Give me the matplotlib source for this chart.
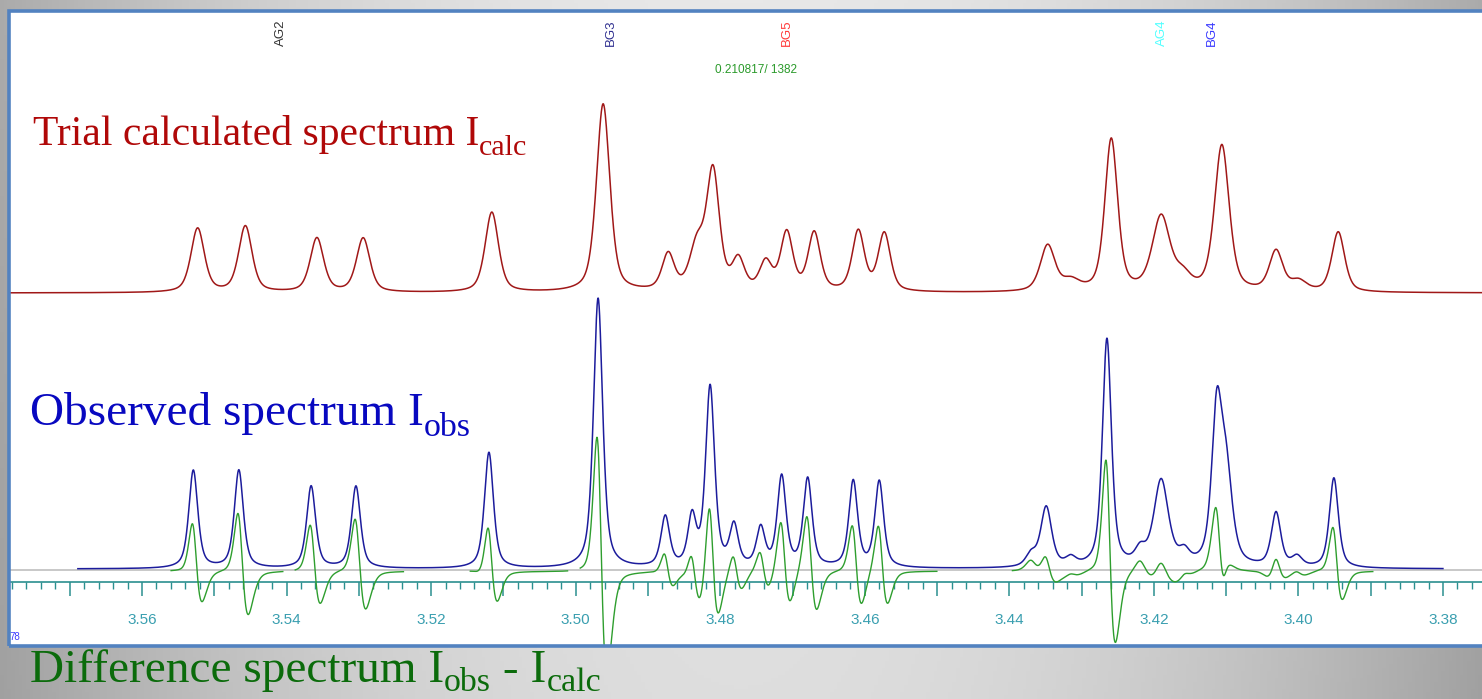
import numpy as np
import matplotlib
matplotlib.use("Agg")
import matplotlib.pyplot as plt
from matplotlib.patches import Rectangle
from matplotlib.ticker import FixedLocator, MultipleLocator

# ---- peak tables (chemical shift in ppm, intensity, half-width in ppm) ----
obs_ppm = [3.5529, 3.5466, 3.5366, 3.5304, 3.5120, 3.4969, 3.4876, 3.4839,
           3.4814, 3.4781, 3.4744, 3.4715, 3.4679, 3.4616, 3.4580, 3.4370,
           3.4349, 3.4315, 3.4265, 3.4219, 3.4190, 3.4158, 3.4113, 3.4100,
           3.4031, 3.4002, 3.3951]
obs_int = [98, 98, 82, 82, 116, 270, 50, 48,
           180, 40, 38, 90, 88, 86, 86, 12,
           60, 8, 228, 14, 86, 12, 148, 88,
           54, 10, 90]
obs_hw = [0.00074, 0.00074, 0.00074, 0.00074, 0.00074, 0.00076, 0.00072, 0.00068,
          0.00074, 0.00070, 0.00070, 0.00072, 0.00072, 0.00072, 0.00072, 0.00085,
          0.00090, 0.00085, 0.00074, 0.00085, 0.00120, 0.00085, 0.00085, 0.00100,
          0.00078, 0.00085, 0.00074]

calc_ppm = [3.5523, 3.5457, 3.5358, 3.5294, 3.5116, 3.4962, 3.4872, 3.4832,
            3.4810, 3.4775, 3.4737, 3.4708, 3.4670, 3.4609, 3.4573, 3.4315,
            3.4347, 3.4259, 3.4190, 3.4160, 3.4106, 3.4031, 3.4000, 3.3945]
calc_int = [64, 66, 54, 54, 80, 188, 36, 44,
            118, 30, 28, 58, 58, 60, 58, 10,
            46, 152, 74, 14, 146, 40, 10, 60]
calc_hw = [0.00110, 0.00110, 0.00110, 0.00110, 0.00110, 0.00110, 0.00100, 0.00120,
           0.00105, 0.00100, 0.00100, 0.00100, 0.00100, 0.00100, 0.00100, 0.00140,
           0.00120, 0.00105, 0.00145, 0.00130, 0.00120, 0.00110, 0.00130, 0.00105]

# spectral windows where the difference is evaluated
diff_windows = [(3.5560, 3.5405), (3.5388, 3.5238), (3.5146, 3.5011),
                (3.4994, 3.4500), (3.4396, 3.3897)]
diff_scale = 1.05

# observed data range
obs_range = (3.5689, 3.3800)

# axis labels and assignment markers
tick_values = [3.56, 3.54, 3.52, 3.50, 3.48, 3.46, 3.44, 3.42, 3.40, 3.38]
tick_labels = ["3.56", "3.54", "3.52", "3.50", "3.48", "3.46", "3.44", "3.42", "3.40", "3.38"]
assign_names = ["AG2", "BG3", "BG5", "AG4", "BG4"]
assign_ppm = [3.5408, 3.4951, 3.4708, 3.4189, 3.4120]
assign_colors = ["#333333", "#303090", "#ff3a3a", "#50ffff", "#3838ff"]


def voigt_sum(x, centers, heights, widths, eta):
    """Sum of pseudo-Voigt lines (peak-height normalised)."""
    y = np.zeros_like(x)
    for c, h, w in zip(centers, heights, widths):
        u = (x - c) / w
        lor = 1.0 / (1.0 + u ** 2)
        gau = np.exp(-np.log(2) * u ** 2)
        y += h * (eta * lor + (1 - eta) * gau)
    return y


# ---- figure and gradient background ----
W, H = 1482, 699
fig = plt.figure(figsize=(W / 100, H / 100), dpi=100)
bg = fig.add_axes([0, 0, 1, 1])
gx = np.linspace(-1, 1, 400)
gy = np.linspace(0, 1, 200)[:, None]
shade = 0.91 - 0.24 * gx[None, :] ** 2 - 0.04 * gy
bg.imshow(np.dstack([shade] * 3), extent=[0, 1, 0, 1], aspect="auto",
          origin="upper", vmin=0, vmax=1)
bg.set_axis_off()

# main plot frame (extends past the right edge)
px_per_ppm = 7228.0
x_left = 3.5784
left_px, top_px, bottom_px, right_px = 9, 11, 646, 1500
ax = fig.add_axes([left_px / W, (H - bottom_px) / H,
                   (right_px - left_px) / W, (bottom_px - top_px) / H])
ax.set_xlim(x_left, x_left - (right_px - left_px) / px_per_ppm)
ax.set_ylim(0, bottom_px - top_px)
ax.set_facecolor("white")

x = np.linspace(x_left, 3.372, 6000)
obs = voigt_sum(x, obs_ppm, obs_int, obs_hw, 0.6)
calc = voigt_sum(x, calc_ppm, calc_int, calc_hw, 0.5)
diff = obs - diff_scale * calc

red_base, blue_base, green_base, zero_line, axis_y = 353, 77, 75, 76, 64

# zero reference line
ax.axhline(zero_line, color="#c4c4c4", lw=1.3, zorder=1)

# calculated spectrum
ax.plot(x, red_base + calc, color="#a01818", lw=1.1, zorder=3)

# observed spectrum
obs_mask = (x <= obs_range[0]) & (x >= obs_range[1])
ax.plot(x[obs_mask], blue_base + obs[obs_mask], color="#1c1c9c", lw=1.1, zorder=3)

# difference spectrum, one segment per window
for hi, lo in diff_windows:
    m = (x <= hi) & (x >= lo)
    ax.plot(x[m], green_base + diff[m], color="#2e9e2e", lw=1.0, zorder=4)

# ppm axis drawn inside the frame
for s in ("top", "left", "right"):
    ax.spines[s].set_visible(False)
ax.spines["bottom"].set_position(("data", axis_y))
ax.spines["bottom"].set_color("#2b8f8f")
ax.spines["bottom"].set_linewidth(1.2)
ax.yaxis.set_visible(False)

major_pos = np.round(np.arange(3.38, 3.5801, 0.01), 3)
ax.xaxis.set_major_locator(FixedLocator(major_pos))
label_map = dict(zip([round(v, 2) for v in tick_values], tick_labels))
ax.set_xticklabels([label_map.get(round(v, 2), "") for v in major_pos])
ax.xaxis.set_minor_locator(MultipleLocator(0.002))
ax.tick_params(axis="x", which="major", direction="out", length=10, width=1.1,
               color="#2b8f8f", labelcolor="#3a9fb0", labelsize=11, pad=12)
ax.tick_params(axis="x", which="minor", direction="out", length=5, width=1.0,
               color="#2b8f8f")
for lbl in ax.get_xticklabels():
    lbl.set_fontfamily("Liberation Sans")

# frame border
ax.add_patch(Rectangle((0, 0), 1, 1, transform=ax.transAxes, fill=False,
                       edgecolor="#5282c0", lw=2.6, clip_on=False, zorder=10))

# assignment markers along the top
for name, pos, col in zip(assign_names, assign_ppm, assign_colors):
    ax.text(pos, 635 - 8, name, rotation=90, ha="center", va="top", color=col,
            fontsize=9.5, family="Liberation Sans")
ax.text(3.4750, 635 - 59, "0.210817/ 1382", ha="center", va="center",
        color="#2a9a2a", fontsize=8.5, family="Liberation Sans")
ax.text(0.0005, 9, "78", transform=ax.get_yaxis_transform(), ha="left",
        va="center", color="#3a3aff", fontsize=7, family="Liberation Sans")

# spectrum captions with hand-placed subscripts
renderer = fig.canvas.get_renderer()


def caption(xp, yp, parts, color, size, sub_drop):
    cur = xp
    for text, sub in parts:
        fs = size * 0.72 if sub else size
        dy = sub_drop if sub else 0
        t = fig.text(cur / W, 1 - (yp + dy) / H, text, color=color, fontsize=fs,
                     family="Liberation Serif", ha="left", va="baseline")
        bb = t.get_window_extent(renderer=renderer)
        cur += bb.width


caption(33, 145, [("Trial calculated spectrum I", False), ("calc", True)],
        "#b00808", 30, 10)
caption(30, 425, [("Observed spectrum I", False), ("obs", True)],
        "#0808c0", 34, 11)
caption(30, 682, [("Difference spectrum I", False), ("obs", True),
                  (" - I", False), ("calc", True)], "#0b6b0b", 34, 9)

fig.savefig("out.png", dpi=100)
